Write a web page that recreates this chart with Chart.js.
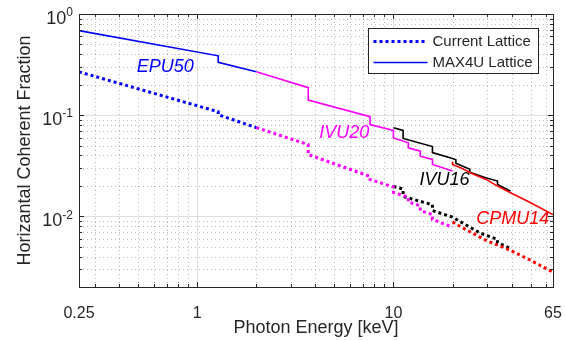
<!DOCTYPE html>
<html>
<head>
<meta charset="utf-8">
<script src="https://cdn.jsdelivr.net/npm/chart.js@4.4.0/dist/chart.umd.min.js"></script>
<style>
  html, body { margin: 0; padding: 0; background: #fff; }
  #wrap { width: 565px; height: 340px; position: relative; }
</style>
</head>
<body>
<div id="wrap"><canvas id="myChart"></canvas></div>
<script>
// photon energy [keV] and horizontal coherent fraction
const epu50Energy = [0.25, 1.28, 1.28, 2.0];
const epu50Max4u = [0.685, 0.386, 0.333, 0.268];
const epu50Current = [0.268, 0.108, 0.101, 0.0753];

const ivu20Energy = [2.0, 3.68, 3.68, 7.6, 7.6, 10, 10, 11.9, 11.9, 13.7, 13.7, 15.8, 15.8, 20];
const ivu20Max4u = [0.268, 0.187, 0.141, 0.0967, 0.0806, 0.0707, 0.0595, 0.0534, 0.0475, 0.044, 0.0393, 0.0365, 0.0325, 0.028];
const ivu20Current = [0.0753, 0.0512, 0.0408, 0.0248, 0.0231, 0.0195, 0.0172, 0.0155, 0.0139, 0.0127, 0.0114, 0.0104, 0.0093, 0.0078];

const ivu16Energy = [10, 11.2, 11.2, 15.8, 15.8, 20, 20.8, 20.8, 24.5, 24.5, 29.5, 33.9, 33.9, 39.5];
const ivu16Max4u = [0.075, 0.0706, 0.0588, 0.0489, 0.0426, 0.0373, 0.0362, 0.0335, 0.0292, 0.0272, 0.024, 0.0223, 0.0207, 0.0177];
const ivu16CurrentEnergy = [10, 11.2, 11.2, 15.8, 15.8, 20, 22, 27.8, 33.9, 33.9, 39.5];
const ivu16Current = [0.0197, 0.0186, 0.0157, 0.013, 0.0114, 0.0098, 0.0088, 0.0068, 0.0059, 0.0055, 0.0048];

const cpmu14Energy = [20, 20, 22, 25.6, 29.5, 33.9, 39.5, 48.3, 65];
const cpmu14Max4u = [0.0348, 0.0325, 0.0302, 0.0261, 0.0233, 0.0199, 0.0171, 0.0141, 0.0104];
const cpmu14CurrentEnergy = [20, 22, 29.5, 39.5, 48.3, 65];
const cpmu14Current = [0.0088, 0.0079, 0.0058, 0.0046, 0.0038, 0.0028];

const xTickLabels = [0.25, 1, 10, 65];
const yTickLabels = [0.01, 0.1, 1];
const legendLabels = ['Current Lattice', 'MAX4U Lattice'];
const curveNames = ['EPU50', 'IVU20', 'IVU16', 'CPMU14'];

const FONT = '"Liberation Sans", Arial, sans-serif';
const AXIS = '#262626';
const X_MIN = 0.25, X_MAX = 65, Y_MIN = 0.002, Y_MAX = 1;

// where the italic curve names sit, in data units
const nameAnchors = [
    { x: 0.687, y: 0.30, color: '#0000ff' },
    { x: 5.62, y: 0.0673, color: '#ff00ff' },
    { x: 18.2, y: 0.0226, color: '#000000' },
    { x: 40.5, y: 0.0093, color: '#ff0000' }
];

function pts(xs, ys) {
    return xs.map((x, i) => ({ x: x, y: ys[i] }));
}

function dotted(label, xs, ys, color) {
    return { label: label, data: pts(xs, ys), borderColor: color, backgroundColor: color,
        borderWidth: 3, borderDash: [3, 3], showLine: true, pointRadius: 0, fill: false };
}
function solid(label, xs, ys, color) {
    return { label: label, data: pts(xs, ys), borderColor: color, backgroundColor: color,
        borderWidth: 1.6, showLine: true, pointRadius: 0, fill: false };
}

function decadeValues(min, max) {
    const out = [];
    for (let e = Math.floor(Math.log10(min)); e <= Math.ceil(Math.log10(max)); e++) {
        for (let m = 1; m <= 9; m++) {
            const v = +(m * Math.pow(10, e)).toPrecision(6);
            if (v >= min - 1e-12 && v <= max + 1e-12) out.push(v);
        }
    }
    return out;
}
const xGrid = decadeValues(X_MIN, X_MAX);
const yGrid = decadeValues(Y_MIN, Y_MAX);

function isIn(list, v) {
    return list.some(t => Math.abs(t - v) / t < 1e-6);
}

const framePlugin = {
    id: 'frame',
    beforeDatasetsDraw(chart) {
        const { ctx, chartArea: a, scales } = chart;
        ctx.save();
        ctx.lineWidth = 1;
        xGrid.forEach(v => {
            const px = Math.round(scales.x.getPixelForValue(v)) + 0.5;
            const major = isIn([1, 10], v);
            ctx.strokeStyle = major ? 'rgba(38,38,38,0.15)' : 'rgba(38,38,38,0.3)';
            ctx.setLineDash(major ? [] : [1, 3]);
            ctx.beginPath(); ctx.moveTo(px, a.top); ctx.lineTo(px, a.bottom); ctx.stroke();
        });
        yGrid.forEach(v => {
            const py = Math.round(scales.y.getPixelForValue(v)) + 0.5;
            const major = isIn([0.01, 0.1], v);
            ctx.strokeStyle = major ? 'rgba(38,38,38,0.15)' : 'rgba(38,38,38,0.3)';
            ctx.setLineDash(major ? [] : [1, 3]);
            ctx.beginPath(); ctx.moveTo(a.left, py); ctx.lineTo(a.right, py); ctx.stroke();
        });
        ctx.restore();
    },
    afterDatasetsDraw(chart) {
        const { ctx, chartArea: a, scales } = chart;
        ctx.save();
        ctx.setLineDash([]);
        ctx.strokeStyle = AXIS;
        ctx.lineWidth = 1;
        // box
        ctx.strokeRect(Math.round(a.left) + 0.5, Math.round(a.top) + 0.5,
            Math.round(a.right - a.left), Math.round(a.bottom - a.top));
        // inward tick marks on all four sides
        xGrid.concat(xTickLabels).forEach(v => {
            const px = Math.round(scales.x.getPixelForValue(v)) + 0.5;
            const len = isIn(xTickLabels, v) ? 5 : 3;
            ctx.beginPath();
            ctx.moveTo(px, a.bottom); ctx.lineTo(px, a.bottom - len);
            ctx.moveTo(px, a.top); ctx.lineTo(px, a.top + len);
            ctx.stroke();
        });
        yGrid.forEach(v => {
            const py = Math.round(scales.y.getPixelForValue(v)) + 0.5;
            const len = isIn(yTickLabels, v) ? 5 : 3;
            ctx.beginPath();
            ctx.moveTo(a.left, py); ctx.lineTo(a.left + len, py);
            ctx.moveTo(a.right, py); ctx.lineTo(a.right - len, py);
            ctx.stroke();
        });
        // y tick labels as 10 with a superscript exponent
        ctx.fillStyle = AXIS;
        ctx.textBaseline = 'middle';
        ctx.textAlign = 'left';
        yTickLabels.forEach(v => {
            const py = scales.y.getPixelForValue(v);
            const exp = String(Math.round(Math.log10(v)));
            ctx.font = '12px ' + FONT;
            const wSup = ctx.measureText(exp).width;
            ctx.font = '18px ' + FONT;
            const wBase = ctx.measureText('10').width;
            const right = a.left - 6;
            ctx.fillText('10', right - wSup - wBase, py + 5);
            ctx.font = '12px ' + FONT;
            ctx.fillText(exp, right - wSup, py - 1);
        });
        // curve names
        ctx.font = 'italic 18px ' + FONT;
        ctx.textAlign = 'center';
        nameAnchors.forEach((n, i) => {
            ctx.fillStyle = n.color;
            ctx.fillText(curveNames[i], scales.x.getPixelForValue(n.x), scales.y.getPixelForValue(n.y));
        });
        // legend box in the top right corner
        const bx = 368.5, by = 28.5, bw = 170, bh = 45;
        ctx.fillStyle = '#fff';
        ctx.fillRect(bx, by, bw, bh);
        ctx.strokeStyle = AXIS;
        ctx.strokeRect(bx, by, bw, bh);
        ctx.font = '15px ' + FONT;
        ctx.textAlign = 'left';
        legendLabels.forEach((txt, i) => {
            const ds = chart.data.datasets[i];
            const ly = by + 13 + i * 21;
            ctx.strokeStyle = ds.borderColor;
            ctx.lineWidth = ds.borderWidth;
            ctx.setLineDash(ds.borderDash || []);
            ctx.beginPath(); ctx.moveTo(bx + 5, ly); ctx.lineTo(bx + 59, ly); ctx.stroke();
            ctx.setLineDash([]);
            ctx.fillStyle = AXIS;
            ctx.fillText(txt, bx + 64, ly);
        });
        ctx.restore();
    }
};

const ctx = document.getElementById('myChart').getContext('2d');
const chart = new Chart(ctx, {
    type: 'scatter',
    data: {
        datasets: [
            dotted('EPU50 current', epu50Energy, epu50Current, '#0000ff'),
            solid('EPU50 MAX4U', epu50Energy, epu50Max4u, '#0000ff'),
            dotted('IVU20 current', ivu20Energy, ivu20Current, '#ff00ff'),
            solid('IVU20 MAX4U', ivu20Energy, ivu20Max4u, '#ff00ff'),
            dotted('CPMU14 current', cpmu14CurrentEnergy, cpmu14Current, '#ff0000'),
            solid('CPMU14 MAX4U', cpmu14Energy, cpmu14Max4u, '#ff0000'),
            dotted('IVU16 current', ivu16CurrentEnergy, ivu16Current, '#000000'),
            solid('IVU16 MAX4U', ivu16Energy, ivu16Max4u, '#000000')
        ]
    },
    options: {
        responsive: true,
        maintainAspectRatio: false,
        animation: false,
        devicePixelRatio: 1,
        layout: { padding: { left: 0, right: 12, top: 14, bottom: 0 } },
        plugins: { legend: { display: false }, tooltip: { enabled: false } },
        scales: {
            x: {
                type: 'logarithmic',
                bounds: 'data',
                min: X_MIN,
                max: X_MAX,
                afterBuildTicks: s => { s.ticks = xTickLabels.map(v => ({ value: v })); },
                afterFit: s => { s.height = 53; s.paddingLeft = 0; s.paddingRight = 0; },
                grid: { display: false },
                border: { display: false },
                ticks: {
                    autoSkip: false,
                    maxRotation: 0,
                    padding: 9,
                    color: AXIS,
                    font: { family: FONT, size: 16 },
                    callback: v => String(v)
                },
                title: {
                    display: true,
                    text: 'Photon Energy [keV]',
                    color: AXIS,
                    font: { family: FONT, size: 18 },
                    padding: { top: 0, bottom: 1 }
                }
            },
            y: {
                type: 'logarithmic',
                bounds: 'data',
                min: Y_MIN,
                max: Y_MAX,
                afterBuildTicks: s => { s.ticks = yTickLabels.map(v => ({ value: v })); },
                afterFit: s => { s.width = 79; s.paddingTop = 0; s.paddingBottom = 0; },
                grid: { display: false },
                border: { display: false },
                ticks: { display: false },
                title: {
                    display: true,
                    text: 'Horizantal Coherent Fraction',
                    color: AXIS,
                    font: { family: FONT, size: 18 },
                    padding: { top: 14, bottom: 0 }
                }
            }
        }
    },
    plugins: [framePlugin]
});
</script>
</body>
</html>
